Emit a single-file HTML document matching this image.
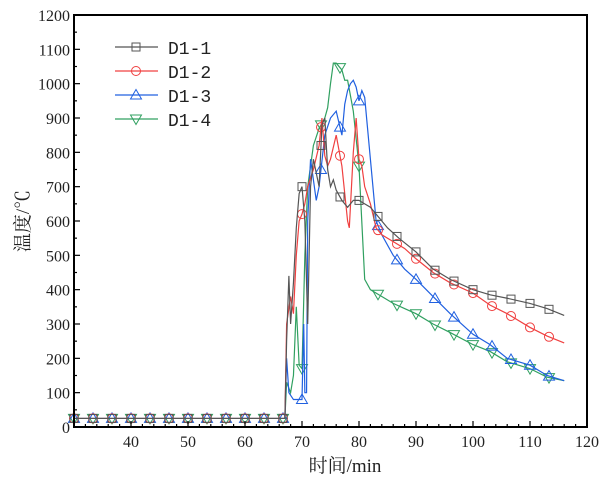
<!DOCTYPE html>
<html><head><meta charset="utf-8"><style>
body{margin:0;background:#fff}
svg text{font-family:"Liberation Serif","Noto Serif CJK SC",serif;fill:#222}
</style></head><body>
<svg id="chart" width="604" height="485" viewBox="0 0 604 485" xmlns="http://www.w3.org/2000/svg"></svg>
<script>
const xTicks=[40,50,60,70,80,90,100,110,120];
const yTicks=[0,100,200,300,400,500,600,700,800,900,1000,1100,1200];
const seriesNames=["D1-1","D1-2","D1-3","D1-4"];
const colors=["#555555","#f04040","#2060e0","#30a060"];
const t1=[30,67,67.3,67.7,68,68.5,69,69.5,70,70.5,71,71.5,72,73,73.5,74,74.5,75,75.5,76,77,78,79,80,81,82,83,85,87,90,93,96,100,103,106,110,113,116];
const v1=[25,25,250,440,300,420,580,680,700,600,300,700,780,700,880,900,750,700,720,690,660,640,660,660,650,640,620,580,550,510,460,430,400,385,375,360,345,325];
const t2=[30,67,67.3,68,68.5,69,69.5,70,70.5,71,72,73,73.5,74,74.5,75,76,77,78,78.3,79,79.5,80,80.5,81,82,83,84,86,88,90,93,96,100,103,106,110,113,116];
const v2=[25,25,300,380,330,500,600,620,650,700,750,820,900,790,760,780,850,760,600,580,800,900,780,760,700,650,580,560,540,520,490,450,420,390,355,330,290,265,245];
const t3=[30,67,67.3,67.7,68.5,70,70.3,70.5,70.8,71,71.5,72,72.5,73,74,75,76,77,77.5,78,78.5,79,79.5,80,80.5,81,82,83,84,86,88,90,93,96,100,103,106,110,113,116];
const v3=[25,25,200,100,80,80,300,100,100,600,780,720,660,700,850,900,920,850,940,980,1000,1010,990,950,980,960,780,600,560,500,460,430,380,330,270,240,200,180,150,135];
const t4=[30,67,67.3,68,68.5,69,69.5,70,70.5,71,72,73,74,74.5,75,75.5,76,77,77.5,78,79,80,81,82,84,86,88,90,93,96,100,103,106,110,113,116];
const v4=[25,25,130,100,150,350,180,170,500,700,820,870,900,930,1000,1060,1060,1040,1010,1010,920,760,430,400,380,360,345,330,300,275,240,220,190,170,145,135];
const allT=[t1,t2,t3,t4], allV=[v1,v2,v3,v4];

const NS="http://www.w3.org/2000/svg";
const svg=document.getElementById('chart');
const L=74,R=587,T=15,B=427;
const X=t=>L+(t-30)*(R-L)/90;
const Y=v=>B-v*(B-T)/1200;
function mk(tag,attrs,parent){const e=document.createElementNS(NS,tag);for(const k in attrs)e.setAttribute(k,attrs[k]);(parent||svg).appendChild(e);return e;}
function marker(g,i,x,y){
  const c=colors[i];let e;
  if(i===0)e=mk('rect',{x:x-4,y:y-4,width:8,height:8,fill:'none',stroke:c},g);
  else if(i===1)e=mk('circle',{cx:x,cy:y,r:4.5,fill:'none',stroke:c},g);
  else if(i===2)e=mk('path',{d:`M${x} ${y-5.5}L${x+5.5} ${y+4}L${x-5.5} ${y+4}Z`,fill:'none',stroke:c},g);
  else e=mk('path',{d:`M${x} ${y+5.5}L${x+5.5} ${y-4}L${x-5.5} ${y-4}Z`,fill:'none',stroke:c},g);
  
  
}
function interp(ts,vs,t){for(let k=1;k<ts.length;k++){if(t<=ts[k]){const f=(t-ts[k-1])/(ts[k]-ts[k-1]);return vs[k-1]+f*(vs[k]-vs[k-1]);}}return vs[vs.length-1];}
for(let i=3;i>=0;i--){
  const g=mk('g',{});
  
  
  const ts=allT[i],vs=allV[i];
  const p=mk('polyline',{points:ts.map((t,k)=>X(t)+','+Y(vs[k])).join(' '),fill:'none',stroke:colors[i],'stroke-width':1.2},g);
  
  
  for(let t=30;t<=ts[ts.length-1];t+=10/3){marker(g,i,X(t),Y(interp(ts,vs,t)));}
}
const ax=mk('rect',{x:L,y:T,width:R-L,height:B-T,fill:'none',stroke:'#000','stroke-width':2});


for(let t=30;t<=120;t+=2){const maj=(t%10===0);mk('line',{x1:X(t),x2:X(t),y1:B,y2:B-(maj?6:3),stroke:'#000','stroke-width':1.2});}
xTicks.forEach(t=>{const e=mk('text',{x:X(t),y:B+20,'text-anchor':'middle','font-size':16});e.textContent=t;

});
for(let v=0;v<=1200;v+=50){const maj=(v%100===0);mk('line',{x1:L,x2:L+(maj?6:3),y1:Y(v),y2:Y(v),stroke:'#000','stroke-width':1.2});}
yTicks.forEach(v=>{const e=mk('text',{x:L-4,y:Y(v)+6,'text-anchor':'end','font-size':16});e.textContent=v;

});
const xl=mk('text',{x:345,y:472,'text-anchor':'middle','font-size':19});xl.textContent='时间/min';


const yl=mk('text',{x:0,y:0,'text-anchor':'middle','font-size':19,transform:'translate(29,221) rotate(-90)'});yl.textContent='温度/℃';


seriesNames.forEach((n,i)=>{
  const g=mk('g',{});
  
  
  const y=47+i*24;
  mk('line',{x1:115,x2:158,y1:y,y2:y,stroke:colors[i],'stroke-width':1.2},g);
  marker(g,i,136,y);
  const tx=mk('text',{x:168,y:y+7,'font-size':18,style:'font-family:"Liberation Mono",monospace'},g);tx.textContent=n;
});
</script>
</body></html>
